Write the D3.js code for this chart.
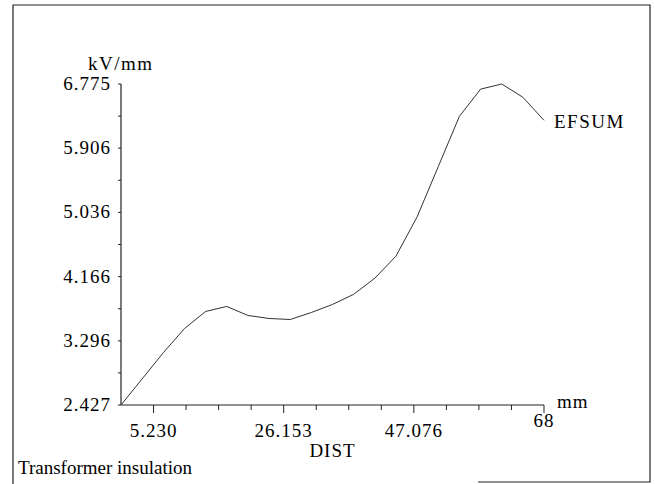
<!DOCTYPE html>
<meta charset="utf-8">
<title>EFSUM vs DIST</title>
<style>
body { margin: 0; background: #fff; }
text { font-family: "Liberation Serif", "DejaVu Serif", serif; font-size: 19px; fill: #000; }
.num { letter-spacing: 1px; }
.frame { stroke: #222; stroke-width: 1.2; }
</style>
<body>
<div id="chart"></div>
<script src="https://d3js.org/d3.v7.min.js"></script>
<script>
  // distance along the insulation (mm) and summed field (kV/mm)
  var dist = [0, 3.4, 6.8, 10.2, 13.6, 17, 20.4, 23.8, 27.2, 30.6, 34,
              37.4, 40.8, 44.2, 47.6, 51, 54.4, 57.8, 61.2, 64.6, 68];
  var efsum = [2.427, 2.781, 3.135, 3.462, 3.694, 3.762, 3.640, 3.599, 3.585, 3.680, 3.789,
               3.926, 4.144, 4.443, 4.975, 5.656, 6.337, 6.705, 6.775, 6.596, 6.283];
  var xTicks = [5.230, 10.461, 15.692, 20.922, 26.153, 31.384, 36.615, 41.845, 47.076, 52.307, 57.538, 62.768, 68];
  var xLabels = [5.230, 26.153, 47.076];
  var yTicks = [2.427, 3.296, 4.166, 5.036, 5.906, 6.775];
  var yMinor = [2.862, 3.731, 4.601, 5.471, 6.340];

  var width = 655, height = 484;

  var svg = d3.select("#chart").append("svg")
      .attr("width", width)
      .attr("height", height);

  // outer frame (bottom edge only partly visible in the scan)
  svg.append("path").attr("class", "frame").attr("fill", "none")
      .attr("d", "M13,484 L13,5 L650,5 L650,482 L478,482");

  var x = d3.scaleLinear().domain([0, 68]).range([121, 544]);
  var y = d3.scaleLinear().domain([2.427, 6.775]).range([405, 84]);

  var g = svg.append("g");

  // axes lines
  g.append("line").attr("x1", x(0)).attr("x2", x(68)).attr("y1", y(2.427)).attr("y2", y(2.427))
      .attr("stroke", "#222").attr("stroke-width", 1.2);
  g.append("line").attr("x1", x(0)).attr("x2", x(0)).attr("y1", y(2.427)).attr("y2", y(6.775))
      .attr("stroke", "#222").attr("stroke-width", 1.2);

  // x ticks
  g.selectAll(".xt").data(xTicks).enter().append("line")
      .attr("x1", function(d) { return x(d); })
      .attr("x2", function(d) { return x(d); })
      .attr("y1", y(2.427))
      .attr("y2", function(d, i) { return y(2.427) + (i % 4 == 0 ? 8 : 5); })
      .attr("stroke", "#222");

  g.selectAll(".xl").data(xLabels).enter().append("text")
      .attr("class", "num")
      .attr("x", function(d) { return x(d); })
      .attr("y", 437)
      .attr("text-anchor", "middle")
      .text(function(d) { return d.toFixed(3); });
  g.append("text").attr("class", "num").attr("x", x(68)).attr("y", 427).attr("text-anchor", "middle").text("68");

  // y ticks
  g.selectAll(".yt").data(yTicks.concat(yMinor)).enter().append("line")
      .attr("x1", x(0) - 3)
      .attr("x2", x(0))
      .attr("y1", function(d) { return y(d); })
      .attr("y2", function(d) { return y(d); })
      .attr("stroke", "#222");

  g.selectAll(".yl").data(yTicks).enter().append("text")
      .attr("class", "num")
      .attr("x", 111)
      .attr("y", function(d) { return y(d) + 6; })
      .attr("text-anchor", "end")
      .text(function(d) { return d.toFixed(3); });

  // the curve
  var line = d3.line()
      .x(function(d, i) { return x(dist[i]); })
      .y(function(d) { return y(d); });

  g.append("path")
      .datum(efsum)
      .attr("d", line)
      .attr("fill", "none")
      .attr("stroke", "#333")
      .attr("stroke-width", 1);

  // labels
  svg.append("text").attr("x", 88).attr("y", 70).style("letter-spacing", "1.5px").text("kV/mm");
  svg.append("text").attr("x", 557).attr("y", 408).style("letter-spacing", "1px").text("mm");
  svg.append("text").attr("x", 554).attr("y", 128).style("letter-spacing", "1.5px").text("EFSUM");
  svg.append("text").attr("x", (x(0) + x(68)) / 2).attr("y", 457).attr("text-anchor", "middle")
      .style("letter-spacing", "1px").text("DIST");
  svg.append("text").attr("x", 18).attr("y", 474).text("Transformer insulation");
</script>
</body>
</html>
